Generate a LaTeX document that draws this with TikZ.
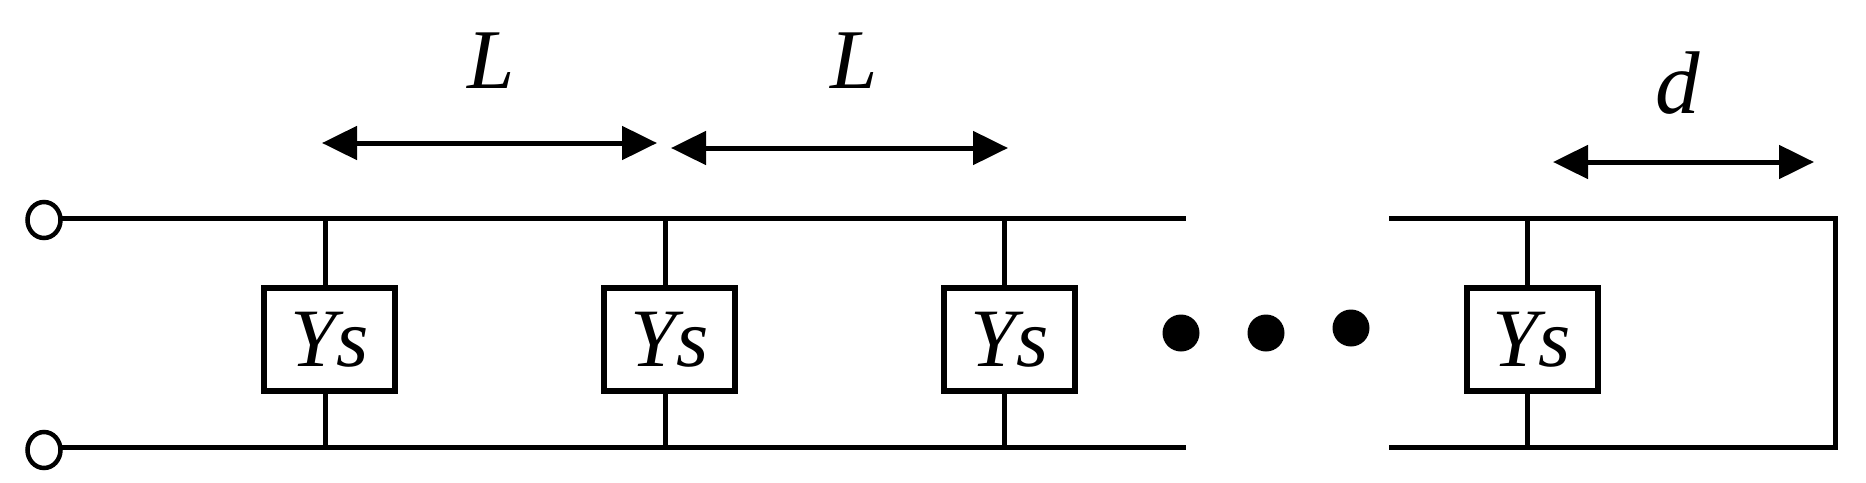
\documentclass[tikz,border=0pt]{standalone}
\usepackage{fontspec}
\setmainfont{Liberation Serif}
\usetikzlibrary{arrows.meta,shapes.geometric}
\tikzset{
  wire/.style={line width=5pt,line cap=butt},
  ysbox/.style={draw,line width=6pt,fill=white,minimum height=103pt,inner sep=0pt,outer sep=0pt,font=\fontsize{83pt}{83pt}\selectfont\itshape},
  terminal/.style={draw,ellipse,line width=4.5pt,fill=white,minimum width=33pt,minimum height=36pt,inner sep=0pt,outer sep=0pt},
  dotmark/.style={fill=black,ellipse,minimum width=37pt,minimum height=37pt,inner sep=0pt,outer sep=0pt},
  dim/.style={line width=5pt,{Triangle[length=35pt,width=33pt]}-{Triangle[length=35pt,width=33pt]}},
  lab/.style={inner sep=0pt,outer sep=0pt,font=\fontsize{85pt}{85pt}\selectfont\itshape}
}
\begin{document}
\begin{tikzpicture}[x=1pt,y=-1pt]
\useasboundingbox (0,0) rectangle (1866,482);
% terminals and line ends
\node[terminal] (p1) at (44,220) {};
\node[terminal] (p2) at (44,450) {};
\coordinate (e1) at (1186,218);
\coordinate (e2) at (1186,447);
\coordinate (s1) at (1389,218);
\coordinate (s2) at (1389,447);
\coordinate (c1) at (1835,218);
\coordinate (c2) at (1835,447);
% rails
\draw[wire] (p1.east |- e1) -- (e1);
\draw[wire] (p2.east |- e2) -- (e2);
\draw[wire,line join=miter] (s1) -- (c1) -- (c2) -- (s2);
% boxes
\node[ysbox,minimum width=131pt] (y1) at (329.5,339.5) {Ys};
\node[ysbox,minimum width=131pt] (y2) at (669.5,339.5) {Ys};
\node[ysbox,minimum width=131pt] (y3) at (1009.5,339.5) {Ys};
\node[ysbox,minimum width=131pt] (y4) at (1532,339.5) {Ys};
% stems
\foreach \n/\x in {1/325,2/665,3/1004,4/1527}{
  \coordinate (t\n) at (\x,218);
  \coordinate (b\n) at (\x,447);
  \draw[wire] (t\n) -- (t\n |- y\n.north);
  \draw[wire] (y\n.south -| b\n) -- (b\n);
}
% dots
\node[dotmark] (d1) at (1181,333) {};
\node[dotmark] (d2) at (1266,333) {};
\node[dotmark] (d3) at (1351,328) {};
% dimensions
\coordinate (a1) at (322,143);
\coordinate (a2) at (657,143);
\coordinate (a3) at (671,148);
\coordinate (a4) at (1008,148);
\coordinate (a5) at (1553,162);
\coordinate (a6) at (1814,162);
\draw[dim] (a1) -- (a2);
\draw[dim] (a3) -- (a4);
\draw[dim] (a5) -- (a6);
\node[lab] (l1) at (491,61) {L};
\node[lab] (l2) at (854,61) {L};
\node[lab,font=\fontsize{89pt}{89pt}\selectfont\itshape] (l3) at (1678,83) {d};
\end{tikzpicture}
\end{document}
